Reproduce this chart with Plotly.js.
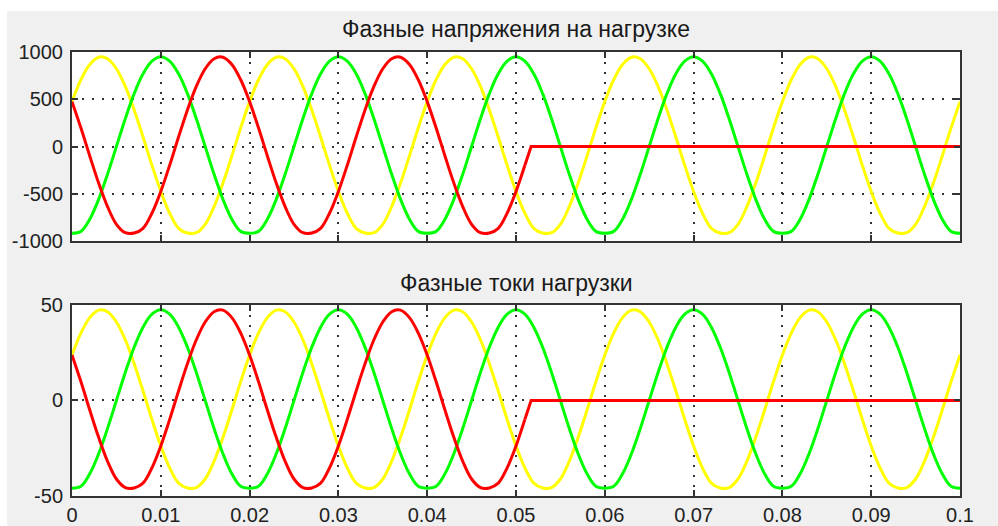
<!DOCTYPE html>
<html>
<head>
<meta charset="utf-8">
<script src="https://cdn.plot.ly/plotly-3.0.1.min.js"></script>
<style>
  html, body { margin: 0; padding: 0; background: #ffffff; }
  #chart { position: absolute; left: 7px; top: 11px; width: 991px; height: 515px; }
</style>
</head>
<body>
<div id="chart"></div>
<script>
// ---- data ----
const titleTop = "Фазные напряжения на нагрузке";
const titleBottom = "Фазные токи нагрузки";

const time = [0,0.001,0.002,0.003,0.004,0.005,0.006,0.007,0.008,0.009,
  0.010,0.011,0.012,0.013,0.014,0.015,0.016,0.017,0.018,0.019,
  0.020,0.021,0.022,0.023,0.024,0.025,0.026,0.027,0.028,0.029,
  0.030,0.031,0.032,0.033,0.034,0.035,0.036,0.037,0.038,0.039,
  0.040,0.041,0.042,0.043,0.044,0.045,0.046,0.047,0.048,0.049,
  0.050,0.051,0.052,0.053,0.054,0.055,0.056,0.057,0.058,0.059,
  0.060,0.061,0.062,0.063,0.064,0.065,0.066,0.067,0.068,0.069,
  0.070,0.071,0.072,0.073,0.074,0.075,0.076,0.077,0.078,0.079,
  0.080,0.081,0.082,0.083,0.084,0.085,0.086,0.087,0.088,0.089,
  0.090,0.091,0.092,0.093,0.094,0.095,0.096,0.097,0.098,0.099,0.100];

const timeRed = [0,0.001,0.002,0.003,0.004,0.005,0.006,0.007,0.008,0.009,
  0.010,0.011,0.012,0.013,0.014,0.015,0.016,0.017,0.018,0.019,
  0.020,0.021,0.022,0.023,0.024,0.025,0.026,0.027,0.028,0.029,
  0.030,0.031,0.032,0.033,0.034,0.035,0.036,0.037,0.038,0.039,
  0.040,0.041,0.042,0.043,0.044,0.045,0.046,0.047,0.048,0.049,
  0.050,0.051,0.0517,0.100];

const voltYellow = [
  475,706,868,945,929,823,636,387,100,-198,-475,-706,-866,-916,-912,-823,-636,-387,-100,198,
  475,706,868,945,929,823,636,387,100,-198,-475,-706,-866,-916,-912,-823,-636,-387,-100,198,
  475,706,868,945,929,823,636,387,100,-198,-475,-706,-866,-916,-912,-823,-636,-387,-100,198,
  475,706,868,945,929,823,636,387,100,-198,-475,-706,-866,-916,-912,-823,-636,-387,-100,198,
  475,706,868,945,929,823,636,387,100,-198,-475,-706,-866,-916,-912,-823,-636,-387,-100,198,
  475];
const voltGreen = [
  -918,-898,-769,-559,-294,0,294,559,769,903,950,903,769,559,294,0,-294,-559,-769,-898,
  -918,-898,-769,-559,-294,0,294,559,769,903,950,903,769,559,294,0,-294,-559,-769,-898,
  -918,-898,-769,-559,-294,0,294,559,769,903,950,903,769,559,294,0,-294,-559,-769,-898,
  -918,-898,-769,-559,-294,0,294,559,769,903,950,903,769,559,294,0,-294,-559,-769,-898,
  -918,-898,-769,-559,-294,0,294,559,769,903,950,903,769,559,294,0,-294,-559,-769,-898,
  -918];
const voltRed = [
  475,198,-100,-387,-636,-823,-912,-916,-866,-706,-475,-198,100,387,636,823,929,945,868,706,
  475,198,-100,-387,-636,-823,-912,-916,-866,-706,-475,-198,100,387,636,823,929,945,868,706,
  475,198,-100,-387,-636,-823,-912,-916,-866,-706,-475,-198,
  0,0];

const curYellow = [
  23.8,35.3,43.4,47.3,46.5,41.1,31.8,19.3,5.0,-9.9,-23.8,-35.3,-43.3,-45.8,-45.6,-41.1,-31.8,-19.3,-5.0,9.9,
  23.8,35.3,43.4,47.3,46.5,41.1,31.8,19.3,5.0,-9.9,-23.8,-35.3,-43.3,-45.8,-45.6,-41.1,-31.8,-19.3,-5.0,9.9,
  23.8,35.3,43.4,47.3,46.5,41.1,31.8,19.3,5.0,-9.9,-23.8,-35.3,-43.3,-45.8,-45.6,-41.1,-31.8,-19.3,-5.0,9.9,
  23.8,35.3,43.4,47.3,46.5,41.1,31.8,19.3,5.0,-9.9,-23.8,-35.3,-43.3,-45.8,-45.6,-41.1,-31.8,-19.3,-5.0,9.9,
  23.8,35.3,43.4,47.3,46.5,41.1,31.8,19.3,5.0,-9.9,-23.8,-35.3,-43.3,-45.8,-45.6,-41.1,-31.8,-19.3,-5.0,9.9,
  23.8];
const curGreen = [
  -45.9,-44.9,-38.4,-27.9,-14.7,0,14.7,27.9,38.4,45.2,47.5,45.2,38.4,27.9,14.7,0,-14.7,-27.9,-38.4,-44.9,
  -45.9,-44.9,-38.4,-27.9,-14.7,0,14.7,27.9,38.4,45.2,47.5,45.2,38.4,27.9,14.7,0,-14.7,-27.9,-38.4,-44.9,
  -45.9,-44.9,-38.4,-27.9,-14.7,0,14.7,27.9,38.4,45.2,47.5,45.2,38.4,27.9,14.7,0,-14.7,-27.9,-38.4,-44.9,
  -45.9,-44.9,-38.4,-27.9,-14.7,0,14.7,27.9,38.4,45.2,47.5,45.2,38.4,27.9,14.7,0,-14.7,-27.9,-38.4,-44.9,
  -45.9,-44.9,-38.4,-27.9,-14.7,0,14.7,27.9,38.4,45.2,47.5,45.2,38.4,27.9,14.7,0,-14.7,-27.9,-38.4,-44.9,
  -45.9];
const curRed = [
  23.8,9.9,-5.0,-19.3,-31.8,-41.1,-45.6,-45.8,-43.3,-35.3,-23.8,-9.9,5.0,19.3,31.8,41.1,46.5,47.3,43.4,35.3,
  23.8,9.9,-5.0,-19.3,-31.8,-41.1,-45.6,-45.8,-43.3,-35.3,-23.8,-9.9,5.0,19.3,31.8,41.1,46.5,47.3,43.4,35.3,
  23.8,9.9,-5.0,-19.3,-31.8,-41.1,-45.6,-45.8,-43.3,-35.3,-23.8,-9.9,
  0,0];

const xTickVals = [0,0.01,0.02,0.03,0.04,0.05,0.06,0.07,0.08,0.09,0.1];
const xTickText = ["0","0.01","0.02","0.03","0.04","0.05","0.06","0.07","0.08","0.09","0.1"];
const yVoltTickVals = [-1000,-500,0,500,1000];
const yVoltTickText = ["-1000","-500","0","500","1000"];
const yCurTickVals = [-50,0,50];
const yCurTickText = ["-50","0","50"];

// ---- styles ----
const cYellow = "#ffff00", cGreen = "#00ff00", cRed = "#ff0000";
const lw = 3;
function tr(x, y, color, xa, ya, shape) {
  return { x: x, y: y, type: "scatter", mode: "lines", xaxis: xa, yaxis: ya,
    line: { color: color, width: lw, shape: shape, smoothing: 1 }, hoverinfo: "skip", showlegend: false };
}
// red phase: smooth sinusoidal part, then the straight cut-off part
const nSine = 52; // samples up to t = 0.051
const traces = [
  tr(time, voltYellow, cYellow, "x", "y", "spline"),
  tr(time, voltGreen, cGreen, "x", "y", "spline"),
  tr(timeRed.slice(0, nSine), voltRed.slice(0, nSine), cRed, "x", "y", "spline"),
  tr(timeRed.slice(nSine - 1), voltRed.slice(nSine - 1), cRed, "x", "y", "linear"),
  tr(time, curYellow, cYellow, "x2", "y2", "spline"),
  tr(time, curGreen, cGreen, "x2", "y2", "spline"),
  tr(timeRed.slice(0, nSine), curRed.slice(0, nSine), cRed, "x2", "y2", "spline"),
  tr(timeRed.slice(nSine - 1), curRed.slice(nSine - 1), cRed, "x2", "y2", "linear")
];

const font = { family: "Liberation Sans, Arial, sans-serif", size: 20, color: "#222222" };
const titleFont = { family: "Liberation Sans, Arial, sans-serif", size: 23, color: "#1a1a1a" };
const axBase = {
  showline: true, linecolor: "#333333", linewidth: 2, mirror: "ticks",
  ticks: "inside", ticklen: 6, tickwidth: 2, tickcolor: "#333333",
  showgrid: true, gridcolor: "#333333", gridwidth: 2, griddash: "2px,8px",
  zeroline: false, tickmode: "array", tickfont: font, fixedrange: true
};
const layout = {
  width: 991, height: 515,
  paper_bgcolor: "#f0f0f0", plot_bgcolor: "#ffffff",
  margin: { l: 65, r: 38, t: 41, b: 30 },
  showlegend: false,
  font: font,
  xaxis: Object.assign({}, axBase, { domain: [0, 1], range: [0, 0.1], anchor: "y",
    tickvals: xTickVals, ticktext: xTickText, showticklabels: false }),
  yaxis: Object.assign({}, axBase, { domain: [0.5743, 1], range: [-1000, 1000], anchor: "x",
    tickvals: yVoltTickVals, ticktext: yVoltTickText, ticklabelstandoff: 3 }),
  xaxis2: Object.assign({}, axBase, { domain: [0, 1], range: [0, 0.1], anchor: "y2",
    tickvals: xTickVals, ticktext: xTickText, showticklabels: true }),
  yaxis2: Object.assign({}, axBase, { domain: [0, 0.4302], range: [-50, 50], anchor: "x2",
    tickvals: yCurTickVals, ticktext: yCurTickText, ticklabelstandoff: 3 }),
  annotations: [
    { text: titleTop, xref: "paper", yref: "paper", x: 0.5, y: 1.0518, xanchor: "center", yanchor: "middle",
      showarrow: false, font: titleFont },
    { text: titleBottom, xref: "paper", yref: "paper", x: 0.5, y: 0.4797, xanchor: "center", yanchor: "middle",
      showarrow: false, font: titleFont }
  ]
};
Plotly.newPlot("chart", traces, layout, { displayModeBar: false, staticPlot: true });
</script>
</body>
</html>
